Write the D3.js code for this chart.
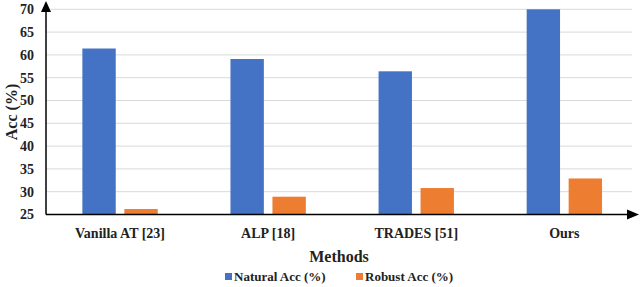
<!DOCTYPE html>
<html><head><meta charset="utf-8">
<script src="https://cdn.jsdelivr.net/npm/d3@7"></script>
<style>body{margin:0;background:#fff}svg{display:block}</style>
</head><body><svg id="c" width="640" height="287"></svg>
<script>
const categories = ["Vanilla AT [23]", "ALP [18]", "TRADES [51]", "Ours"];
const naturalAcc = [61.4, 59.1, 56.4, 70.0];
const robustAcc = [26.2, 28.9, 30.8, 32.9];
const seriesNames = ["Natural Acc (%)", "Robust Acc (%)"];
const colors = ["#4472C4", "#ED7D31"];
const yTicks = [25, 30, 35, 40, 45, 50, 55, 60, 65, 70];

const FONT = "Liberation Serif";
const svg = d3.select("#c");
const x0 = 46, x1 = 638.4, yTop = 9.3, yBot = 214.5;
const x = d3.scaleBand().domain(categories).range([x0, x1]);
const y = d3.scaleLinear().domain([25, 70]).range([yBot, yTop]);
const inner = d3.scaleBand().domain([0, 1]).range([0, x.bandwidth()]).paddingInner(0.205).paddingOuter(0.866);

// gridlines
svg.append("g").selectAll("line").data(yTicks.slice(1)).join("line")
  .attr("x1", x0).attr("x2", 632).attr("y1", d => y(d)).attr("y2", d => y(d))
  .attr("stroke", "#d9d9d9").attr("stroke-width", 1);

// bars
const series = [naturalAcc, robustAcc];
series.forEach((vals, si) => {
  svg.append("g").selectAll("rect").data(vals).join("rect")
    .attr("x", (d, i) => x(categories[i]) + inner(si))
    .attr("width", inner.bandwidth())
    .attr("y", d => y(d)).attr("height", d => yBot - y(d))
    .attr("fill", colors[si]);
});

// y axis
const ya = svg.append("g").attr("transform", `translate(${x0},0)`)
  .call(d3.axisLeft(y).tickValues(yTicks).tickSize(0).tickPadding(12));
ya.select(".domain").remove();
ya.attr("font-family", FONT).attr("font-weight", "bold");
ya.selectAll("text").attr("font-family", FONT).attr("font-size", 14).attr("font-weight", "bold").attr("fill", "#222");

// axis lines with arrows
svg.append("line").attr("x1", x0).attr("x2", x0).attr("y1", yBot).attr("y2", 8).attr("stroke", "#000").attr("stroke-width", 1.5);
svg.append("path").attr("d", `M${x0-5},${12} L${x0},1 L${x0+5},${12} Z`).attr("fill", "#000");
svg.append("line").attr("x1", x0).attr("x2", 630).attr("y1", yBot).attr("y2", yBot).attr("stroke", "#000").attr("stroke-width", 1.5);
svg.append("path").attr("d", `M627,${yBot-5} L639,${yBot} L627,${yBot+5} Z`).attr("fill", "#000");

// x labels
svg.append("g").selectAll("text").data(categories).join("text")
  .attr("x", d => x(d) + x.bandwidth() / 2).attr("y", 238)
  .attr("text-anchor", "middle").attr("font-family", FONT).attr("font-weight", "bold")
  .attr("font-size", 14).attr("fill", "#222").text(d => d);

svg.append("text").attr("x", 339).attr("y", 262).attr("text-anchor", "middle")
  .attr("font-family", FONT).attr("font-weight", "bold").attr("font-size", 16).attr("fill", "#222").text("Methods");
svg.append("text").attr("transform", "translate(17,112) rotate(-90)").attr("text-anchor", "middle")
  .attr("font-family", FONT).attr("font-weight", "bold").attr("font-size", 16).attr("fill", "#222").text("Acc (%)");

// legend
const legX = [225, 356];
seriesNames.forEach((n, i) => {
  svg.append("rect").attr("x", legX[i]).attr("y", 273).attr("width", 7).attr("height", 7).attr("fill", colors[i]);
  svg.append("text").attr("x", legX[i] + 9).attr("y", 281).attr("font-family", FONT).attr("font-weight", "bold")
    .attr("font-size", 13).attr("fill", "#222").text(n);
});
</script></body></html>
